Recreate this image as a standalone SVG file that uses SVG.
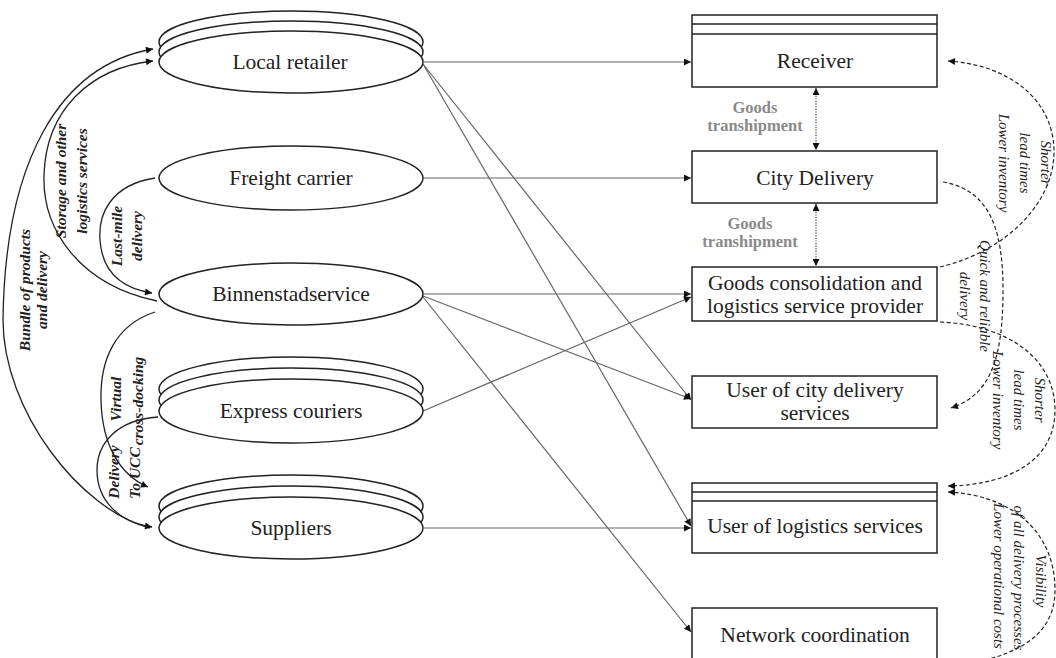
<svg xmlns="http://www.w3.org/2000/svg" width="1056" height="658" viewBox="0 0 1056 658">
<defs>
<marker id="ah" viewBox="0 0 10 10" refX="10" refY="5" markerWidth="9" markerHeight="7" markerUnits="userSpaceOnUse" orient="auto-start-reverse"><path d="M0,0 L10,5 L0,10 z" fill="#111"/></marker>
</defs>
<style>
.el{fill:#fff;stroke:#222;stroke-width:1.5}
.bx{fill:#fff;stroke:#222;stroke-width:1.5}
.hl{stroke:#222;stroke-width:1.5}
.nt{font-family:"Liberation Serif","Times New Roman",serif;font-size:21.5px;fill:#222;text-anchor:middle}
.tr{font-family:"Liberation Serif","Times New Roman",serif;font-size:16.5px;font-weight:bold;fill:#8a8a8a;text-anchor:middle}
.ll{font-family:"Liberation Serif","Times New Roman",serif;font-size:15.5px;font-weight:bold;font-style:italic;fill:#222;text-anchor:middle}
.rl{font-family:"Liberation Serif","Times New Roman",serif;font-size:15px;font-style:italic;fill:#222;text-anchor:middle}
.sc{fill:none;stroke:#666;stroke-width:1.2;marker-end:url(#ah)}
.cv{fill:none;stroke:#222;stroke-width:1.3;marker-end:url(#ah)}
.dc{fill:none;stroke:#222;stroke-width:1.2;stroke-dasharray:4 2.5;marker-end:url(#ah)}
.dv{fill:none;stroke:#444;stroke-width:1.2;stroke-dasharray:1.2 1.4;marker-start:url(#ah);marker-end:url(#ah)}
</style>
<rect width="1056" height="658" fill="#fff"/>

<g id="connectors">
<path class="sc" d="M424,62 L691,62"/>
<path class="sc" d="M423,64 L691,400"/>
<path class="sc" d="M423,64 L691,526"/>
<path class="sc" d="M424,178 L691,178"/>
<path class="sc" d="M424,294 L691,294"/>
<path class="sc" d="M423,296 L691,399"/>
<path class="sc" d="M423,297 L691,632"/>
<path class="sc" d="M423,411 L691,297"/>
<path class="sc" d="M424,528 L691,528"/>
<path class="dv" d="M816,88 L816,150"/>
<path class="dv" d="M816,204 L816,266"/>
<path class="cv" d="M150,528 C 80,510 3,410 3,320 C 5,160 60,65 153,49"/>
<path class="cv" d="M157,301 C 80,285 42,230 44,175 C 46,110 90,68 153,61"/>
<path class="cv" d="M155,178 C 110,185 98,215 100,240 C 102,270 120,288 152,293"/>
<path class="cv" d="M155,312 C 115,325 100,360 101,400 C 102,445 120,475 148,487"/>
<path class="cv" d="M158,417 C 115,420 97,445 97,470 C 97,500 118,522 152,527"/>
<path class="dc" d="M940,267 C 1010,250 1055,200 1054,150 C 1053,100 1010,65 948,61"/>
<path class="dc" d="M943,182 C 990,190 1003,230 1003,290 C 1003,360 990,395 951,408"/>
<path class="dc" d="M940,322 C 1010,325 1055,360 1055,410 C 1055,460 1010,485 948,486"/>
<path class="dc" d="M940,668 C 1010,660 1055,640 1055,590 C 1055,530 1010,495 948,492"/>
</g>

<g id="edge-labels">
<text class="tr" x="755" y="113">Goods</text>
<text class="tr" x="755" y="131">transhipment</text>
<text class="tr" x="750" y="229">Goods</text>
<text class="tr" x="750" y="247">transhipment</text>
<g transform="translate(30,290) rotate(-90)"><text class="ll" x="0" y="0">Bundle of products</text></g>
<g transform="translate(47,290) rotate(-90)"><text class="ll" x="0" y="0">and delivery</text></g>
<g transform="translate(66,181) rotate(-90)"><text class="ll" x="0" y="0">Storage and other</text></g>
<g transform="translate(87,181) rotate(-90)"><text class="ll" x="0" y="0">logistics services</text></g>
<g transform="translate(122,236) rotate(-90)"><text class="ll" x="0" y="0">Last-mile</text></g>
<g transform="translate(142,236) rotate(-90)"><text class="ll" x="0" y="0">delivery</text></g>
<g transform="translate(121,399) rotate(-90)"><text class="ll" x="0" y="0">Virtual</text></g>
<g transform="translate(143,401) rotate(-90)"><text class="ll" x="0" y="0">cross-docking</text></g>
<g transform="translate(119,472) rotate(-90)"><text class="ll" x="0" y="0">Delivery</text></g>
<g transform="translate(140,473) rotate(-90)"><text class="ll" x="0" y="0">To UCC</text></g>
<g transform="translate(1041,163) rotate(90)"><text class="rl" x="0" y="0">Shorter</text></g>
<g transform="translate(1020,163) rotate(90)"><text class="rl" x="0" y="0">lead times</text></g>
<g transform="translate(999,163) rotate(90)"><text class="rl" x="0" y="0">Lower inventory</text></g>
<g transform="translate(980,296) rotate(90)"><text class="rl" x="0" y="0">Quick and reliable</text></g>
<g transform="translate(960,296) rotate(90)"><text class="rl" x="0" y="0">delivery</text></g>
<g transform="translate(1035,400) rotate(90)"><text class="rl" x="0" y="0">Shorter</text></g>
<g transform="translate(1014,400) rotate(90)"><text class="rl" x="0" y="0">lead times</text></g>
<g transform="translate(993,400) rotate(90)"><text class="rl" x="0" y="0">Lower inventory</text></g>
<g transform="translate(1036,581) rotate(90)"><text class="rl" x="0" y="0">Visibility</text></g>
<g transform="translate(1014,578) rotate(90)"><text class="rl" x="0" y="0">of all delivery processes</text></g>
<g transform="translate(994,576) rotate(90)"><text class="rl" x="0" y="0">Lower operational costs</text></g>
</g>

<g id="local-retailer">
<ellipse class="el" cx="291" cy="42" rx="132" ry="31"/>
<ellipse class="el" cx="291" cy="52" rx="132" ry="31"/>
<ellipse class="el" cx="291" cy="62" rx="132" ry="31"/>
<text class="nt" x="290" y="69">Local retailer</text>
</g>
<g id="freight-carrier">
<ellipse class="el" cx="291" cy="178" rx="132" ry="32"/>
<text class="nt" x="291" y="185">Freight carrier</text>
</g>
<g id="binnenstadservice">
<ellipse class="el" cx="291" cy="294" rx="132" ry="31"/>
<text class="nt" x="291" y="301">Binnenstadservice</text>
</g>
<g id="express-couriers">
<ellipse class="el" cx="291" cy="389" rx="132" ry="32"/>
<ellipse class="el" cx="291" cy="400" rx="132" ry="32"/>
<ellipse class="el" cx="291" cy="411" rx="132" ry="32"/>
<text class="nt" x="291" y="418">Express couriers</text>
</g>
<g id="suppliers">
<ellipse class="el" cx="291" cy="506" rx="132" ry="31"/>
<ellipse class="el" cx="291" cy="517" rx="132" ry="31"/>
<ellipse class="el" cx="291" cy="528" rx="132" ry="31"/>
<text class="nt" x="291" y="535">Suppliers</text>
</g>

<g id="receiver">
<rect class="bx" x="692" y="15" width="245" height="72"/>
<line class="hl" x1="692" y1="24" x2="937" y2="24"/>
<line class="hl" x1="692" y1="34" x2="937" y2="34"/>
<text class="nt" x="815" y="68">Receiver</text>
</g>
<g id="city-delivery">
<rect class="bx" x="692" y="151" width="245" height="52"/>
<text class="nt" x="815" y="185">City Delivery</text>
</g>
<g id="goods-consolidation">
<rect class="bx" x="692" y="267" width="245" height="54"/>
<text class="nt" x="815" y="290">Goods consolidation and</text>
<text class="nt" x="815" y="313">logistics service provider</text>
</g>
<g id="user-city-delivery">
<rect class="bx" x="692" y="376" width="245" height="52"/>
<text class="nt" x="815" y="397">User of city delivery</text>
<text class="nt" x="815" y="420">services</text>
</g>
<g id="user-logistics">
<rect class="bx" x="692" y="483" width="245" height="70"/>
<line class="hl" x1="692" y1="492" x2="937" y2="492"/>
<line class="hl" x1="692" y1="501" x2="937" y2="501"/>
<text class="nt" x="815" y="533">User of logistics services</text>
</g>
<g id="network-coordination">
<rect class="bx" x="692" y="608" width="245" height="62"/>
<text class="nt" x="815" y="642">Network coordination</text>
</g>
</svg>
